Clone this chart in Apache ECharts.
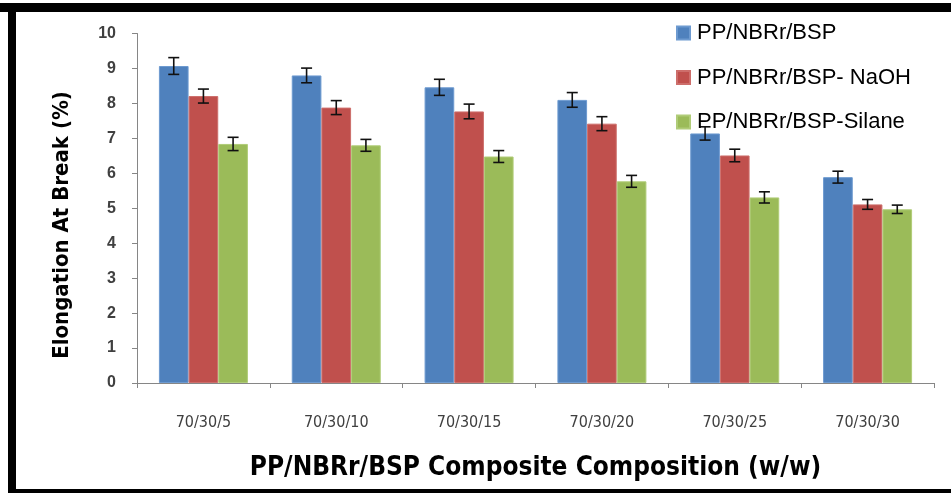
<!DOCTYPE html>
<html><head><meta charset="utf-8">
<script src="https://cdn.jsdelivr.net/npm/echarts@6/dist/echarts.min.js"></script>
<style>html,body{margin:0;padding:0;background:#fff}#c{width:951px;height:493px}</style>
</head><body><div id="c"></div>
<script>
var categories = ['70/30/5','70/30/10','70/30/15','70/30/20','70/30/25','70/30/30'];
var seriesNames = ['PP/NBRr/BSP','PP/NBRr/BSP- NaOH','PP/NBRr/BSP-Silane'];
var valuesPlain  = [9.07, 8.80, 8.46, 8.10, 7.14, 5.89];
var valuesNaOH   = [8.21, 7.88, 7.77, 7.42, 6.51, 5.11];
var valuesSilane = [6.84, 6.80, 6.48, 5.77, 5.31, 4.97];
var errPlain  = [0.24, 0.21, 0.23, 0.21, 0.19, 0.17];
var errNaOH   = [0.20, 0.20, 0.21, 0.20, 0.18, 0.14];
var errSilane = [0.19, 0.17, 0.17, 0.17, 0.16, 0.12];
var yTicks = [0,1,2,3,4,5,6,7,8,9,10];
var xTitle = 'PP/NBRr/BSP Composite Composition (w/w)';
var yTitle = 'Elongation At Break (%)';

var colors = ['#4F81BD','#C0504D','#9BBB59'];
var edge = ['#6d9ad0','#cd6e6b','#b0cc78'];
var vals = [valuesPlain, valuesNaOH, valuesSilane];
var errs = [errPlain, errNaOH, errSilane];
var catGap = 0.33;
var condensed = 'Liberation Sans Narrow, DejaVu Sans Condensed, sans-serif';

var series = [];
vals.forEach(function(v, i){
  series.push({
    name: seriesNames[i], type: 'bar', data: v,
    barGap: '0%', barCategoryGap: (catGap*100)+'%',
    itemStyle: {color: colors[i], borderColor: edge[i], borderWidth: 1},
    z: 2
  });
});
vals.forEach(function(v, i){
  var d = v.map(function(val, k){ return [k, val - errs[i][k], val + errs[i][k]]; });
  series.push({
    type: 'custom', name: seriesNames[i] + ' err', data: d, z: 5, silent: true,
    renderItem: function(params, api){
      var k = api.value(0);
      var lo = api.coord([k, api.value(1)]);
      var hi = api.coord([k, api.value(2)]);
      var cw = api.size([1, 0])[0];
      var bw = cw * (1 - catGap) / 3;
      var x = lo[0] + (i - 1) * bw;
      var cap = 5.5;
      var st = {stroke: '#111', lineWidth: 1.6};
      return {type: 'group', children: [
        {type: 'line', shape: {x1: x, y1: hi[1], x2: x, y2: lo[1]}, style: st},
        {type: 'line', shape: {x1: x - cap, y1: hi[1], x2: x + cap, y2: hi[1]}, style: st},
        {type: 'line', shape: {x1: x - cap, y1: lo[1], x2: x + cap, y2: lo[1]}, style: st}
      ]};
    }
  });
});

var chart = echarts.init(document.getElementById('c'), null, {renderer: 'canvas'});
chart.setOption({
  animation: false,
  backgroundColor: '#fff',
  grid: {left: 137, right: 17, top: 33.5, bottom: 110, containLabel: false},
  legend: {
    data: seriesNames, orient: 'vertical', left: 671, top: 17,
    itemWidth: 13, itemHeight: 13, itemGap: 22.5, icon: 'rect',
    textStyle: {fontFamily: 'Liberation Sans, Arial, sans-serif', fontSize: 22, color: '#000', padding: [0,0,0,2]},
    z: 10
  },
  xAxis: {
    type: 'category', data: categories,
    axisLine: {lineStyle: {color: '#868686', width: 1}},
    axisTick: {show: true, length: 5, lineStyle: {color: '#868686'}},
    axisLabel: {margin: 32, fontFamily: condensed, fontSize: 16, color: '#404040'},
    name: xTitle, nameLocation: 'middle', nameGap: 72,
    nameTextStyle: {fontFamily: condensed, fontWeight: 'bold', fontSize: 26, color: '#000'}
  },
  yAxis: {
    type: 'value', min: 0, max: 10, interval: 1,
    axisLine: {show: true, lineStyle: {color: '#868686', width: 1}},
    axisTick: {show: true, length: 5, lineStyle: {color: '#868686'}},
    splitLine: {show: false},
    axisLabel: {margin: 21, fontFamily: 'Liberation Sans, sans-serif', fontWeight: 'bold', fontSize: 16, color: '#404040',
      formatter: function(v){ return yTicks.indexOf(v) >= 0 ? String(v) : ''; }}
  },
  graphic: [
    {type: 'rect', shape: {x: 0, y: 3, width: 951, height: 9}, style: {fill: '#000'}, silent: true},
    {type: 'rect', shape: {x: 8, y: 3, width: 8, height: 490}, style: {fill: '#000'}, silent: true},
    {type: 'rect', shape: {x: 8, y: 489, width: 943, height: 4}, style: {fill: '#000'}, silent: true},
    {type: 'text', x: 62, y: 225, rotation: Math.PI / 2,
     style: {text: yTitle, fontFamily: condensed, fontWeight: 'bold', fontSize: 22, fill: '#000',
             align: 'center', verticalAlign: 'middle'}, silent: true}
  ],
  series: series
});
</script></body></html>
